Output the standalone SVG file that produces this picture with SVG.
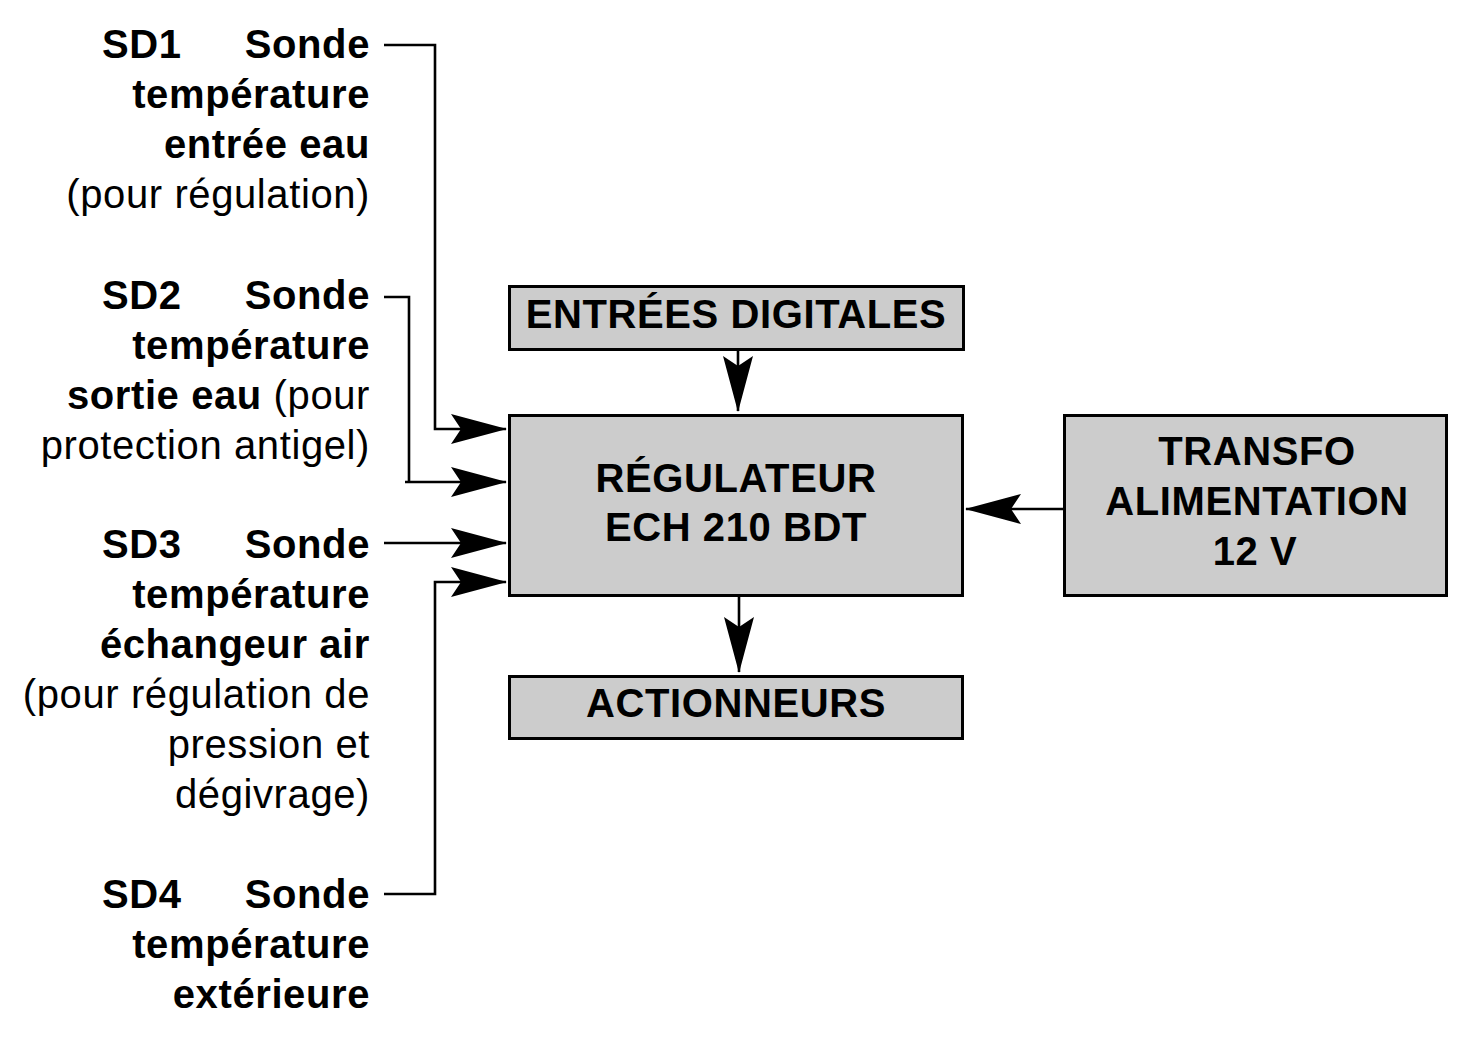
<svg xmlns="http://www.w3.org/2000/svg" width="1457" height="1039" viewBox="0 0 1457 1039">
<style>
  text { font-family: "Liberation Sans", Arial, sans-serif; font-size: 40px; fill: #000; letter-spacing: 0.6px; }
  .b { font-weight: bold; }
  .r { font-weight: normal; }
  .lbl { text-anchor: end; }
  .box { fill: #cccccc; stroke: #000; stroke-width: 3; }
  .ctr { text-anchor: middle; font-weight: bold; }
  .con { fill: none; stroke: #000; stroke-width: 2.6; }
</style>
<defs>
  <marker id="ah" viewBox="-56 -17 58 34" markerWidth="58" markerHeight="34" refX="0" refY="0" orient="auto" markerUnits="userSpaceOnUse">
    <path d="M1,0 L-55,-15 L-45,0 L-55,15 Z" fill="#000"/>
  </marker>
</defs>
<rect width="1457" height="1039" fill="#fff"/>

<g id="connectors">
  <path class="con" d="M384,45 H435 V429 H506" marker-end="url(#ah)"/>
  <path class="con" d="M384,297 H409 V482"/>
  <path class="con" d="M405,482 H506" marker-end="url(#ah)"/>
  <path class="con" d="M384,543 H506" marker-end="url(#ah)"/>
  <path class="con" d="M384,894 H435 V582 H506" marker-end="url(#ah)"/>
  <path class="con" d="M738,351 V411" marker-end="url(#ah)"/>
  <path class="con" d="M1063,509 H966" marker-end="url(#ah)"/>
  <path class="con" d="M739,597 V672" marker-end="url(#ah)"/>
</g>

<g id="sd1">
  <text class="b" x="102" y="58">SD1</text>
  <text class="b lbl" x="370" y="58">Sonde</text>
  <text class="b lbl" x="370" y="108">température</text>
  <text class="b lbl" x="370" y="158">entrée eau</text>
  <text class="r lbl" x="370" y="208">(pour régulation)</text>
</g>

<g id="sd2">
  <text class="b" x="102" y="309">SD2</text>
  <text class="b lbl" x="370" y="309">Sonde</text>
  <text class="b lbl" x="370" y="359">température</text>
  <text class="lbl" x="370" y="409"><tspan class="b">sortie eau</tspan> <tspan class="r">(pour</tspan></text>
  <text class="r lbl" x="370" y="459">protection antigel)</text>
</g>

<g id="sd3">
  <text class="b" x="102" y="558">SD3</text>
  <text class="b lbl" x="370" y="558">Sonde</text>
  <text class="b lbl" x="370" y="608">température</text>
  <text class="b lbl" x="370" y="658">échangeur air</text>
  <text class="r lbl" x="370" y="708">(pour régulation de</text>
  <text class="r lbl" x="370" y="758">pression et</text>
  <text class="r lbl" x="370" y="808">dégivrage)</text>
</g>

<g id="sd4">
  <text class="b" x="102" y="908">SD4</text>
  <text class="b lbl" x="370" y="908">Sonde</text>
  <text class="b lbl" x="370" y="958">température</text>
  <text class="b lbl" x="370" y="1008">extérieure</text>
</g>

<g id="entrees">
  <rect class="box" x="509.5" y="286.5" width="454" height="63"/>
  <text class="ctr" x="736" y="328">ENTRÉES DIGITALES</text>
</g>

<g id="regulateur">
  <rect class="box" x="509.5" y="415.5" width="453" height="180"/>
  <text class="ctr" x="736" y="492">RÉGULATEUR</text>
  <text class="ctr" x="736" y="541">ECH 210 BDT</text>
</g>

<g id="transfo">
  <rect class="box" x="1064.5" y="415.5" width="382" height="180"/>
  <text class="ctr" x="1257" y="465">TRANSFO</text>
  <text class="ctr" x="1257" y="515">ALIMENTATION</text>
  <text class="ctr" x="1255" y="565">12 V</text>
</g>

<g id="actionneurs">
  <rect class="box" x="509.5" y="676.5" width="453" height="62"/>
  <text class="ctr" x="736" y="717">ACTIONNEURS</text>
</g>
</svg>
